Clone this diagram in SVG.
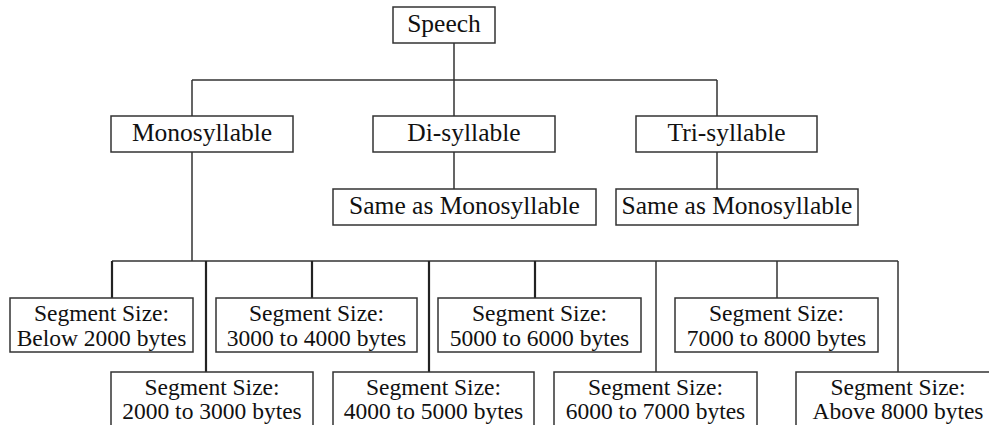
<svg xmlns="http://www.w3.org/2000/svg" width="989" height="425" viewBox="0 0 989 425">
<style>
.b{fill:#fff;stroke:#333;stroke-width:1.5}
.t{font-family:'Liberation Serif','DejaVu Serif',serif;font-size:25.5px;fill:#111;text-anchor:middle}
.s{font-family:'Liberation Serif','DejaVu Serif',serif;font-size:23.5px;fill:#111;text-anchor:middle}
.c{fill:none;stroke:#333;stroke-width:1.5}
.k{fill:none;stroke:#222;stroke-width:2.2}
</style>
<rect width="989" height="425" fill="#fff"/>
<g id="connectors">
<path class="c" d="M454 43V80M192 80H717M192 80V116M454 80V116M717 80V116M454 152V189M717 152V189M192 152V261M112 261H898"/>
<path class="k" d="M112 261V298M206 261V372M312 261V298M429 261V372M535 261V298"/>
<path class="c" d="M656 261V372M777 261V298M898 261V372"/>
</g>
<g id="speech"><rect class="b" x="393" y="7" width="102" height="36"/><text class="t" x="444" y="32" font-family="Liberation Serif, serif">Speech</text></g>
<g id="mono"><rect class="b" x="111" y="116" width="182" height="36"/><text class="t" x="202" y="141">Monosyllable</text></g>
<g id="di"><rect class="b" x="373" y="116" width="182" height="36"/><text class="t" x="464" y="141">Di-syllable</text></g>
<g id="tri"><rect class="b" x="636" y="116" width="181" height="36"/><text class="t" x="726.5" y="141">Tri-syllable</text></g>
<g id="same1"><rect class="b" x="333" y="189" width="263" height="36"/><text class="t" x="464.5" y="214">Same as Monosyllable</text></g>
<g id="same2"><rect class="b" x="616" y="189" width="242" height="36"/><text class="t" x="737" y="214">Same as Monosyllable</text></g>
<g id="seg1"><rect class="b" x="10" y="298" width="183" height="54"/><text class="s" x="101.5" y="321">Segment Size:</text><text class="s" x="101.5" y="346">Below 2000 bytes</text></g>
<g id="seg2"><rect class="b" x="111" y="372" width="202" height="60"/><text class="s" x="212" y="395">Segment Size:</text><text class="s" x="212" y="419">2000 to 3000 bytes</text></g>
<g id="seg3"><rect class="b" x="216" y="298" width="201" height="54"/><text class="s" x="316.5" y="321">Segment Size:</text><text class="s" x="316.5" y="346">3000 to 4000 bytes</text></g>
<g id="seg4"><rect class="b" x="333" y="372" width="201" height="60"/><text class="s" x="433.5" y="395">Segment Size:</text><text class="s" x="433.5" y="419">4000 to 5000 bytes</text></g>
<g id="seg5"><rect class="b" x="438" y="298" width="203" height="54"/><text class="s" x="539.5" y="321">Segment Size:</text><text class="s" x="539.5" y="346">5000 to 6000 bytes</text></g>
<g id="seg6"><rect class="b" x="554" y="372" width="203" height="60"/><text class="s" x="655.5" y="395">Segment Size:</text><text class="s" x="655.5" y="419">6000 to 7000 bytes</text></g>
<g id="seg7"><rect class="b" x="675" y="298" width="203" height="54"/><text class="s" x="776.5" y="321">Segment Size:</text><text class="s" x="776.5" y="346">7000 to 8000 bytes</text></g>
<g id="seg8"><rect class="b" x="796" y="372" width="204" height="60"/><text class="s" x="898" y="395">Segment Size:</text><text class="s" x="898" y="419">Above 8000 bytes</text></g>
</svg>
